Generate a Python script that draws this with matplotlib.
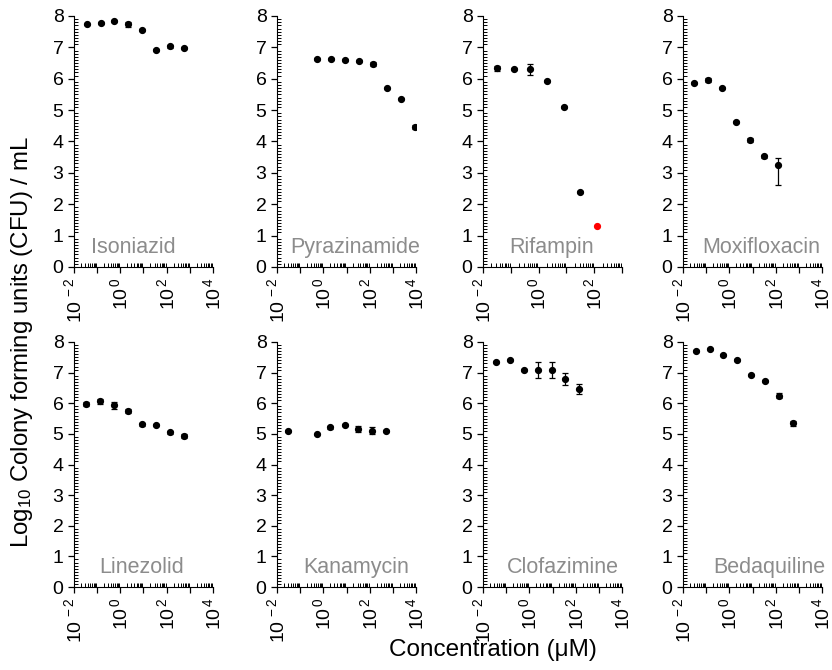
import matplotlib as mpl
mpl.use('Agg')
import matplotlib.pyplot as plt
import numpy as np
from matplotlib.ticker import LogLocator, MultipleLocator, FuncFormatter, NullFormatter

plt.rcParams['font.family'] = ['Liberation Sans', 'DejaVu Sans']
plt.rcParams['mathtext.fontset'] = 'custom'
plt.rcParams['mathtext.rm'] = 'Liberation Sans'
plt.rcParams['mathtext.it'] = 'Liberation Sans:italic'
plt.rcParams['mathtext.bf'] = 'Liberation Sans:bold'

# concentrations (uM), log10 CFU/mL means and error bars
drugs = ['Isoniazid', 'Pyrazinamide', 'Rifampin', 'Moxifloxacin',
         'Linezolid', 'Kanamycin', 'Clofazimine', 'Bedaquiline']

iso_conc = [0.035, 0.14, 0.56, 2.2, 9.0, 36, 143, 570]
iso_val = [7.73, 7.77, 7.83, 7.74, 7.56, 6.93, 7.04, 6.98]
iso_err = [0.03, 0.03, 0.03, 0.08, 0.04, 0.03, 0.05, 0.03]

pza_conc = [0.55, 2.2, 8.8, 35, 140, 560, 2200, 8900]
pza_val = [6.63, 6.63, 6.61, 6.56, 6.47, 5.69, 5.37, 4.46]
pza_err = [0.03, 0.03, 0.03, 0.03, 0.06, 0.03, 0.03, 0.07]

rif_conc = [0.032, 0.13, 0.5, 2.0, 8.0, 32]
rif_val = [6.34, 6.30, 6.30, 5.93, 5.10, 2.39]
rif_err = [0.08, 0.03, 0.17, 0.03, 0.03, 0.03]
rif_red_conc = [126]
rif_red_val = [1.31]

mxf_conc = [0.031, 0.125, 0.5, 2.0, 8.0, 32, 128]
mxf_val = [5.87, 5.95, 5.71, 4.63, 4.05, 3.53, 3.24]
mxf_err_lo = [0.03, 0.06, 0.03, 0.03, 0.07, 0.05, 0.63]
mxf_err_hi = [0.03, 0.06, 0.03, 0.03, 0.07, 0.05, 0.25]

lzd_conc = [0.033, 0.13, 0.53, 2.1, 8.4, 34, 135, 540]
lzd_val = [5.98, 6.06, 5.93, 5.74, 5.31, 5.30, 5.06, 4.93]
lzd_err = [0.06, 0.09, 0.11, 0.07, 0.04, 0.03, 0.05, 0.06]

kan_conc = [0.031, 0.51, 2.0, 8.3, 32, 130, 530]
kan_val = [5.09, 4.98, 5.21, 5.28, 5.15, 5.11, 5.10]
kan_err = [0.03, 0.03, 0.04, 0.03, 0.1, 0.1, 0.04]

cfz_conc = [0.036, 0.14, 0.57, 2.3, 9.1, 36, 145]
cfz_val = [7.36, 7.40, 7.09, 7.09, 7.09, 6.80, 6.47]
cfz_err = [0.03, 0.03, 0.03, 0.27, 0.27, 0.19, 0.17]

bdq_conc = [0.035, 0.14, 0.56, 2.2, 9.0, 36, 143, 570]
bdq_val = [7.70, 7.78, 7.57, 7.41, 6.93, 6.72, 6.24, 5.35]
bdq_err = [0.03, 0.03, 0.03, 0.03, 0.03, 0.03, 0.08, 0.08]

series = [
    (iso_conc, iso_val, [iso_err, iso_err]),
    (pza_conc, pza_val, [pza_err, pza_err]),
    (rif_conc, rif_val, [rif_err, rif_err]),
    (mxf_conc, mxf_val, [mxf_err_lo, mxf_err_hi]),
    (lzd_conc, lzd_val, [lzd_err, lzd_err]),
    (kan_conc, kan_val, [kan_err, kan_err]),
    (cfz_conc, cfz_val, [cfz_err, cfz_err]),
    (bdq_conc, bdq_val, [bdq_err, bdq_err]),
]
xmax = [1e4, 1e4, 1e3, 1e4, 1e4, 1e4, 1e4, 1e4]
# horizontal centre of each drug name, as a fraction of the axes width
label_x = [0.43, 0.56, 0.49, 0.56, 0.49, 0.57, 0.575, 0.62]

W, H = 832, 670
fig = plt.figure(figsize=(W / 100, H / 100), dpi=100)

lefts = [74, 277, 483, 683]
width = 139
rows = [(16, 267), (342, 587)]


def fmt_pow(x, pos):
    e = int(round(np.log10(x)))
    if e % 2 != 0:
        return ''
    return r'$\mathregular{10^{\,%d}}$' % e


for i, (conc, val, err) in enumerate(series):
    r, c = divmod(i, 4)
    top, bot = rows[r]
    ax = fig.add_axes([lefts[c] / W, (H - bot) / H, width / W, (bot - top) / H])
    ax.errorbar(conc, val, yerr=err, fmt='o', color='black', ms=4.2,
                elinewidth=0.9, capsize=2.2, capthick=0.9)
    if drugs[i] == 'Rifampin':
        ax.plot(rif_red_conc, rif_red_val, 'o', color='red', ms=4.2)
    ax.set_xscale('log')
    ax.set_xlim(1e-2, xmax[i])
    ax.set_ylim(0, 8)
    ax.spines['top'].set_visible(False)
    ax.spines['right'].set_visible(False)
    ax.xaxis.set_major_locator(LogLocator(base=10, numticks=20))
    ax.xaxis.set_minor_locator(LogLocator(base=10, subs=np.arange(2, 10), numticks=100))
    ax.xaxis.set_major_formatter(FuncFormatter(fmt_pow))
    ax.xaxis.set_minor_formatter(NullFormatter())
    ax.yaxis.set_major_locator(MultipleLocator(1))
    ax.yaxis.set_minor_locator(MultipleLocator(0.1))
    ax.tick_params(which='major', direction='out', length=4, width=0.9, labelsize=14)
    ax.tick_params(which='minor', direction='in', length=3, width=0.7)
    ax.tick_params(axis='x', which='major', labelrotation=90, labelsize=14)
    lx = 10 ** (-2 + label_x[i] * np.log10(xmax[i] / 1e-2))
    ax.text(lx, 0.45, drugs[i], fontsize=15.5, color='#8c8c8c', ha='center', va='baseline')

fig.text(22 / W, 1 - 342 / H, r'Log$_{\mathregular{10}}$ Colony forming units (CFU) / mL',
         rotation=90, ha='center', va='center', fontsize=17.3)
fig.text(493 / W, 1 - 650 / H, 'Concentration (\u03bcM)', ha='center', va='center', fontsize=17.5)

plt.savefig('out.png', dpi=100)
plt.close()
